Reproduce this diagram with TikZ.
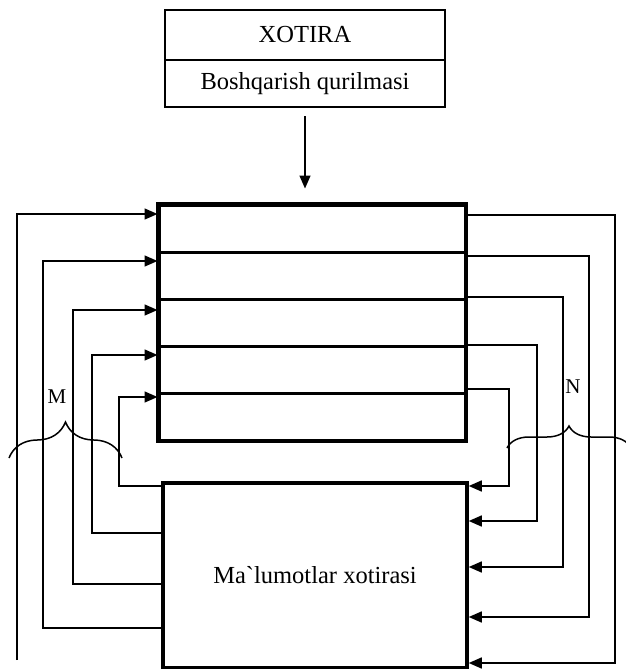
\documentclass[tikz,border=0pt]{standalone}
\usepackage{fontspec}
\setmainfont{Liberation Serif}
\font\rawlib="Liberation Serif" at 24.5pt
\usetikzlibrary{arrows.meta,decorations.pathreplacing,calc}
\begin{document}
\begin{tikzpicture}[x=1pt,y=-1pt,
  txt/.style={font=\fontsize{24.5}{28}\selectfont},
  topbox/.style={draw,line width=2.5pt,minimum width=280pt,inner sep=0pt,txt},
  rowbox/.style={draw,line width=3pt,minimum width=306pt,minimum height=47pt,inner sep=0pt},
  membox/.style={draw,line width=3.5pt,minimum width=304pt,minimum height=185pt,inner sep=0pt,txt},
  conn/.style={line width=1.5pt},
  tip/.style={-{Triangle[length=13pt,width=11pt]}},
  brc/.style={line width=1.5pt,decorate},
  lbl/.style={font=\fontsize{21}{24}\selectfont,inner sep=0pt}]
\useasboundingbox (0,0) rectangle (626,669);

% top block
\node[topbox,minimum height=50pt] (xot) at (305,35) {XOTIRA};
\node[topbox,minimum height=47pt] (bq) at (305,83.5) {Boshqarish qurilmasi};

% register rows
\node[rowbox] (r1) at (312,228.5) {};
\node[rowbox] (r2) at (312,275.5) {};
\node[rowbox] (r3) at (312,322.5) {};
\node[rowbox] (r4) at (312,369.5) {};
\node[rowbox] (r5) at (312,416.5) {};
\draw[line width=3.5pt] (r1.north west) rectangle (r5.south east);

% data memory
\node[membox] (mem) at (315,575.5) {Ma{\rawlib`}lumotlar xotirasi};

% control arrow
\draw[conn,tip] ([yshift=-8pt]bq.south) -- ([yshift=15pt]r1.north -| bq.south);

% left connectors
\coordinate (fe) at (17,660);
\draw[conn,tip] (fe) -- (17,214) -- (r1.west |- 0,214);
\draw[conn,tip] (mem.west |- 0,628) -| (43,261) -- (r2.west |- 0,261);
\draw[conn,tip] (mem.west |- 0,584) -| (73,310) -- (r3.west |- 0,310);
\draw[conn,tip] (mem.west |- 0,533) -| (92,355) -- (r4.west |- 0,355);
\draw[conn,tip] (mem.west |- 0,486) -| (119,397) -- (r5.west |- 0,397);

% right connectors
\draw[conn,tip] (r1.east |- 0,215) -| (615,663) -- (mem.east |- 0,663);
\draw[conn,tip] (r2.east |- 0,256) -| (589,617) -- (mem.east |- 0,617);
\draw[conn,tip] (r3.east |- 0,297) -| (563,567) -- (mem.east |- 0,567);
\draw[conn,tip] (r4.east |- 0,345) -| (537,521) -- (mem.east |- 0,521);
\draw[conn,tip] (r5.east |- 0,389) -| (509,486) -- (mem.east |- 0,486);

% braces
\draw[brc,decoration={brace,amplitude=36pt}] (9,458) -- (122,458);
\draw[brc,decoration={brace,amplitude=22pt}] (507,448) -- (631,448);
\node[lbl] (M) at (57,397) {M};
\node[lbl] (N) at (573,387) {N};
\end{tikzpicture}
\end{document}
